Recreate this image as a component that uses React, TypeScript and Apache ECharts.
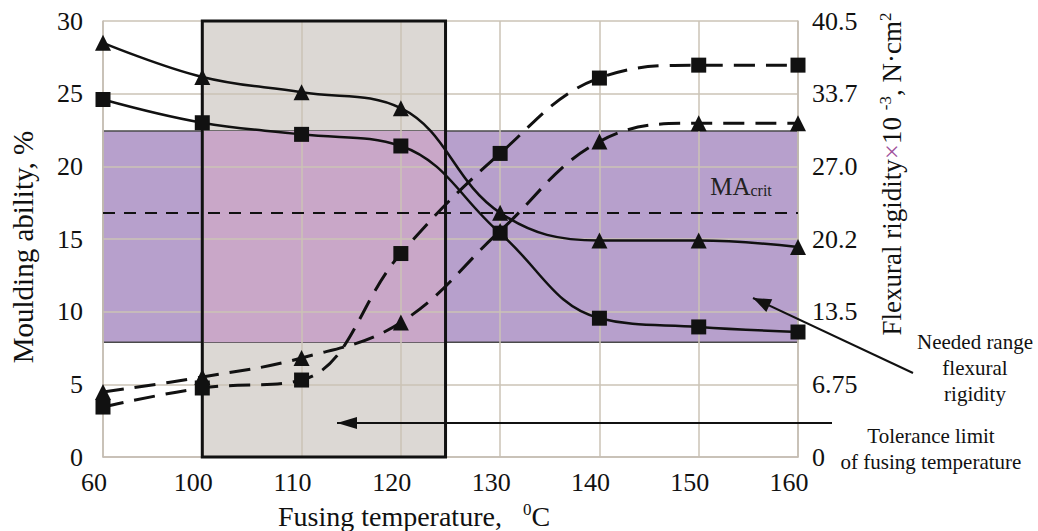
import React, { useEffect, useRef } from "react";
import * as echarts from "echarts";

const xLabels = ["60", "100", "110", "120", "130", "140", "150", "160"];
const xIndex = [0, 1, 2, 3, 4, 5, 6, 7];
// Moulding ability, % (left axis)
const maTriangle = [28.5, 26.15, 25.1, 24.0, 16.8, 14.9, 14.9, 14.45];
const maSquare = [24.6, 23.0, 22.2, 21.4, 15.4, 9.55, 8.95, 8.6];
// Flexural rigidity x10^-3, N·cm² (right axis)
const frSquare = [4.64, 6.41, 7.15, 18.9, 28.2, 35.2, 36.4, 36.4];
const frTriangle = [6.04, 7.43, 9.2, 12.5, 21.0, 29.3, 31.0, 31.0];
const leftTicks = [0, 5, 10, 15, 20, 25, 30];
const rightTickLabels = ["0", "6.75", "13.5", "20.2", "27.0", "33.7", "40.5"];
// needed range (left axis units), critical MA, tolerance limit (x index units)
const neededRange = [7.9, 22.43];
const maCrit = 16.8;
const toleranceRange = [1, 3.45];

const FONT = "'Liberation Serif', 'Times New Roman', serif";

function arrowHead(x1: number, y1: number, x2: number, y2: number, len: number, half: number) {
  const dx = x2 - x1;
  const dy = y2 - y1;
  const L = Math.sqrt(dx * dx + dy * dy);
  const ux = dx / L;
  const uy = dy / L;
  const bx = x2 - ux * len;
  const by = y2 - uy * len;
  const nx = -uy;
  const ny = ux;
  return [
    [x2, y2],
    [bx + nx * half, by + ny * half],
    [bx - nx * half, by - ny * half],
  ];
}

export default function App() {
  const ref = useRef<HTMLDivElement>(null);
  useEffect(() => {
    document.body.style.margin = "0";
    if (!ref.current) return;
    const chart = echarts.init(ref.current, null, { renderer: "svg" });
    const pairs = (arr: number[]) => arr.map((v, i) => [xIndex[i], v]);
    const a1 = [913, 373, 753, 298];
    const a2 = [832, 423, 337, 423];
    chart.setOption({
      animation: false,
      backgroundColor: "#ffffff",
      grid: { left: 103, right: 240, top: 21, bottom: 74 },
      xAxis: {
        type: "value",
        min: 0,
        max: 7,
        interval: 1,
        z: 3,
        axisLine: { show: true, lineStyle: { color: "#c4bcb3", width: 1.5 } },
        axisTick: { show: false },
        axisLabel: {
          formatter: (v: number) => xLabels[v] ?? "",
          color: "#111",
          fontFamily: FONT,
          fontSize: 26,
          margin: 12,
          padding: [0, 18, 0, 0],
        },
        splitLine: { show: true, lineStyle: { color: "#cbc3b6", width: 1.5 } },
      },
      yAxis: [
        {
          type: "value",
          min: 0,
          max: 30,
          interval: 5,
          z: 3,
          axisLine: { show: true, lineStyle: { color: "#c4bcb3", width: 1.5 } },
          axisTick: { show: false },
          axisLabel: {
            formatter: (v: number) => (leftTicks.includes(v) ? String(v) : ""),
            color: "#111",
            fontFamily: FONT,
            fontSize: 26,
            margin: 20,
          },
          splitLine: { show: true, lineStyle: { color: "#cbc3b6", width: 1.5 } },
        },
        {
          type: "value",
          min: 0,
          max: 40.5,
          interval: 6.75,
          position: "right",
          z: 3,
          axisLine: { show: true, lineStyle: { color: "#c4bcb3", width: 1.5 } },
          axisTick: { show: false },
          axisLabel: {
            formatter: (v: number) => rightTickLabels[Math.round(v / 6.75)] ?? "",
            color: "#111",
            fontFamily: FONT,
            fontSize: 26,
            margin: 14,
          },
          splitLine: { show: false },
        },
      ],
      series: [
        {
          type: "line",
          data: [],
          z: 1,
          silent: true,
          markArea: {
            silent: true,
            z: 1,
            data: [
              [
                { coord: [toleranceRange[0], 0], itemStyle: { color: "#dcd8d4" } },
                { coord: [toleranceRange[1], 30] },
              ],
              [
                {
                  coord: [0, neededRange[0]],
                  itemStyle: { color: "#b7a0cc", borderColor: "#4a4a4a", borderWidth: 1.5 },
                },
                { coord: [7, neededRange[1]] },
              ],
              [
                { coord: [toleranceRange[0], neededRange[0]], itemStyle: { color: "#c9a7c8" } },
                { coord: [toleranceRange[1], neededRange[1]] },
              ],
            ],
          },
        },
        {
          type: "line",
          data: [],
          z: 4,
          silent: true,
          clip: false,
          markArea: {
            silent: true,
            z: 4,
            itemStyle: { color: "rgba(0,0,0,0)", borderColor: "#111", borderWidth: 3 },
            data: [[{ coord: [toleranceRange[0], 0] }, { coord: [toleranceRange[1], 30] }]],
          },
          markLine: {
            silent: true,
            z: 4,
            symbol: "none",
            label: { show: false },
            lineStyle: { color: "#111", width: 2, type: [12, 9] },
            data: [{ yAxis: maCrit }],
          },
        },
        {
          name: "MA triangle",
          type: "line",
          z: 5,
          data: pairs(maTriangle),
          smooth: 0.4,
          symbol: "triangle",
          symbolSize: 16,
          lineStyle: { color: "#111", width: 2.5 },
          itemStyle: { color: "#111" },
        },
        {
          name: "MA square",
          type: "line",
          z: 5,
          data: pairs(maSquare),
          smooth: 0.4,
          symbol: "rect",
          symbolSize: 15,
          lineStyle: { color: "#111", width: 2.5 },
          itemStyle: { color: "#111" },
        },
        {
          name: "FR square",
          type: "line",
          z: 5,
          yAxisIndex: 1,
          data: pairs(frSquare),
          smooth: 0.4,
          symbol: "rect",
          symbolSize: 15,
          lineStyle: { color: "#111", width: 3, type: [21, 11] },
          itemStyle: { color: "#111" },
        },
        {
          name: "FR triangle",
          type: "line",
          z: 5,
          yAxisIndex: 1,
          data: pairs(frTriangle),
          smooth: 0.4,
          symbol: "triangle",
          symbolSize: 16,
          lineStyle: { color: "#111", width: 3, type: [21, 11] },
          itemStyle: { color: "#111" },
        },
      ],
      graphic: [
        {
          type: "text",
          x: 23,
          y: 247,
          rotation: Math.PI / 2,
          z: 10,
          style: {
            text: "Moulding ability, %",
            fontFamily: FONT,
            fontSize: 29,
            fill: "#111",
            align: "center",
            verticalAlign: "middle",
          },
        },
        {
          type: "text",
          x: 414,
          y: 516,
          z: 10,
          style: {
            text: "Fusing temperature,   {s|0}C",
            fontFamily: FONT,
            fontSize: 28,
            fill: "#111",
            align: "center",
            verticalAlign: "middle",
            rich: {
              s: { fontFamily: FONT, fontSize: 17, fill: "#111", verticalAlign: "top", padding: [0, 0, 14, 0] },
            },
          },
        },
        {
          type: "text",
          x: 892,
          y: 174,
          rotation: Math.PI / 2,
          z: 10,
          style: {
            text: "Flexural rigidity{x|×}10 {s|-3}, N·cm{s|2}",
            fontFamily: FONT,
            fontSize: 27,
            fill: "#111",
            align: "center",
            verticalAlign: "middle",
            rich: {
              x: { fontFamily: FONT, fontSize: 27, fill: "#a0509a" },
              s: { fontFamily: FONT, fontSize: 17, fill: "#111", verticalAlign: "top", padding: [0, 0, 14, 0] },
            },
          },
        },
        {
          type: "text",
          x: 741,
          y: 186,
          z: 10,
          style: {
            text: "MA{c|crit}",
            fontFamily: FONT,
            fontSize: 25,
            fill: "#222",
            align: "center",
            verticalAlign: "middle",
            rich: {
              c: { fontFamily: FONT, fontSize: 16, fill: "#222", verticalAlign: "bottom", padding: [8, 0, 0, 0] },
            },
          },
        },
        {
          type: "text",
          x: 975,
          y: 368,
          z: 10,
          style: {
            text: "Needed range\nflexural\nrigidity",
            fontFamily: FONT,
            fontSize: 21,
            lineHeight: 26,
            fill: "#111",
            align: "center",
            verticalAlign: "middle",
          },
        },
        {
          type: "text",
          x: 931,
          y: 449,
          z: 10,
          style: {
            text: "Tolerance limit\nof fusing temperature",
            fontFamily: FONT,
            fontSize: 21,
            lineHeight: 26,
            fill: "#111",
            align: "center",
            verticalAlign: "middle",
          },
        },
        {
          type: "line",
          z: 10,
          shape: { x1: a1[0], y1: a1[1], x2: a1[2], y2: a1[3] },
          style: { stroke: "#111", lineWidth: 2 },
        },
        {
          type: "polygon",
          z: 10,
          shape: { points: arrowHead(a1[0], a1[1], a1[2], a1[3], 18, 7) },
          style: { fill: "#111" },
        },
        {
          type: "line",
          z: 10,
          shape: { x1: a2[0], y1: a2[1], x2: a2[2], y2: a2[3] },
          style: { stroke: "#111", lineWidth: 2 },
        },
        {
          type: "polygon",
          z: 10,
          shape: { points: arrowHead(a2[0], a2[1], a2[2], a2[3], 20, 6) },
          style: { fill: "#111" },
        },
      ],
    });
    return () => chart.dispose();
  }, []);
  return <div ref={ref} style={{ width: 1038, height: 531 }} />;
}
